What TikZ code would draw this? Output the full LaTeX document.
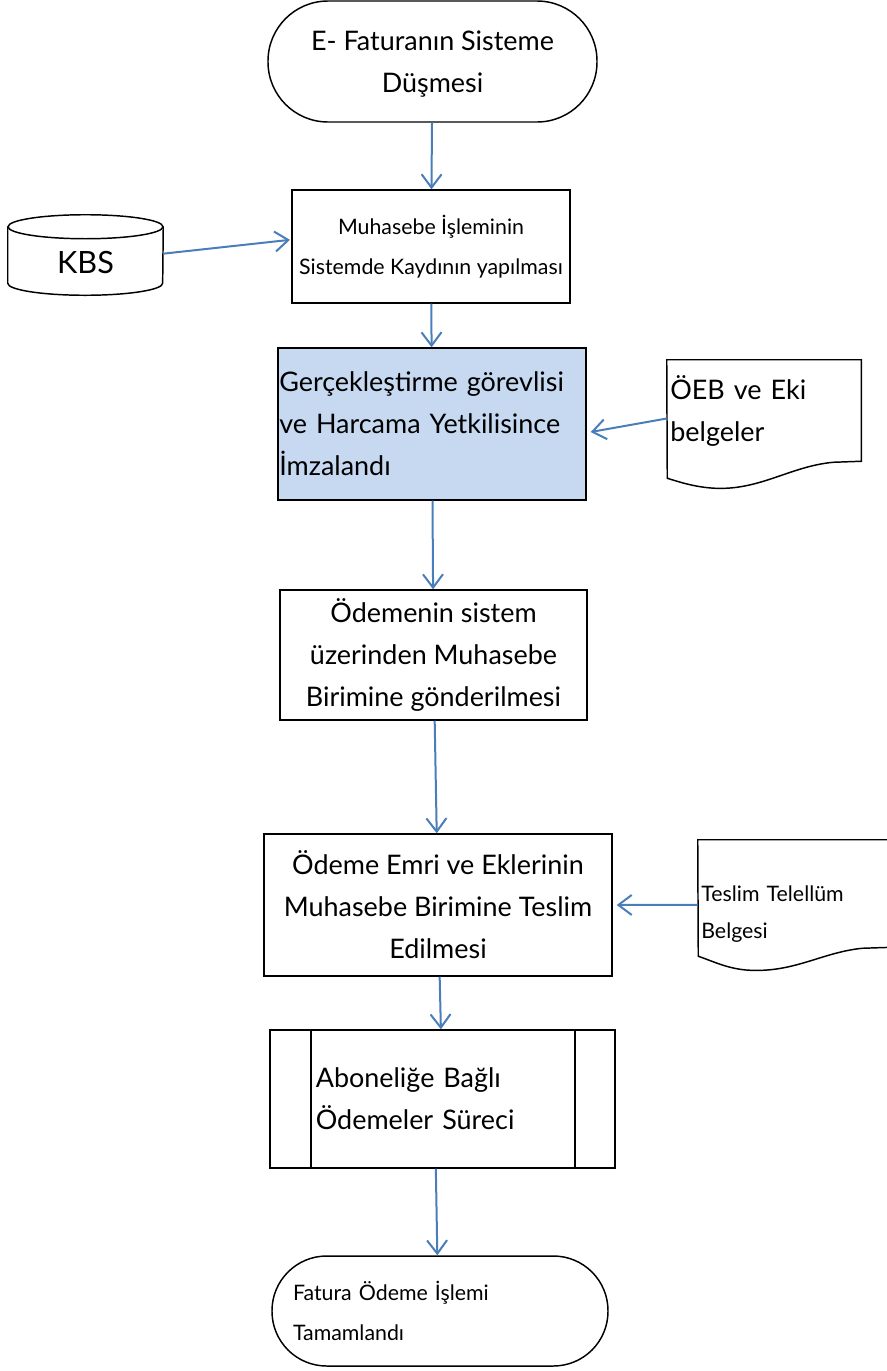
\documentclass[tikz,border=0pt]{standalone}
\usepackage{fontspec}
\setmainfont{Lato}
\usetikzlibrary{arrows.meta,positioning}
\definecolor{arrblue}{HTML}{4A7EBB}
\definecolor{boxblue}{HTML}{C6D9F1}
\newcommand{\smalltxt}{\fontsize{16}{30}\selectfont}
\newcommand{\midtxt}{\fontsize{20.2}{31.5}\selectfont}

\begin{document}
\begin{tikzpicture}[x=0.75pt,y=-0.75pt,
  box/.style={draw,line width=1.1pt,align=center,inner sep=0pt,font=\midtxt},
  term/.style={box,rounded corners=#1},
  doc/.style={align=left,inner xsep=2.5pt,inner ysep=0pt,font=\midtxt},
  a/.style={draw=arrblue,line width=1.5pt,-{Straight Barb[length=10pt,width=15pt]}}]
  \useasboundingbox (0,0) rectangle (886,1371);

  \node[term=45pt, minimum width=246.75pt, minimum height=90.75pt, text depth=-3pt] (start) at (432.5,61.5) {E- Faturanın Sisteme\\Düşmesi};
  \node[box, font=\smalltxt, minimum width=208.5pt, minimum height=84.75pt] (muh) at (431,246.5) {Muhasebe İşleminin\\Sistemde Kaydının yapılması};
  \node[font=\fontsize{23}{28}\selectfont, minimum width=116.25pt, minimum height=42pt, inner sep=0pt] (kbs) at (85.5,263) {KBS};
  \node[box, fill=boxblue, align=left, text width=229pt, inner xsep=1pt, minimum height=114pt] (imza) at (432,424) {Gerçekleştirme görevlisi\\ve Harcama Yetkilisince\\İmzalandı};
  \node[doc, text width=140.5pt, minimum height=75.75pt] (oeb) at (764,410.5) {ÖEB ve Eki\\belgeler};
  \node[box, minimum width=230.25pt, minimum height=97.5pt] (pay) at (433.5,655) {Ödemenin sistem\\üzerinden Muhasebe\\Birimine gönderilmesi};
  \node[box, minimum width=261pt, minimum height=106.5pt] (emir) at (438,905) {Ödeme Emri ve Eklerinin\\Muhasebe Birimine Teslim\\Edilmesi};
  \node[doc, font=\smalltxt, text width=140.5pt, minimum height=80.25pt, text depth=0pt] (teslim) at (795,893.5) {Teslim Telellüm\\[-2pt]Belgesi};
  \node[box, align=left, text width=190pt, inner xsep=34.5pt, minimum height=103.5pt] (proc) at (442.5,1099) {Aboneliğe Bağlı\\Ödemeler Süreci};
  \node[term=41pt, font=\smalltxt, align=left, text width=220.5pt, inner xsep=15.75pt, minimum height=82.5pt] (end) at (440,1311) {Fatura Ödeme İşlemi\\Tamamlandı};

  % cylinder, documents and process bars
  \draw[line width=1.1pt] ([yshift=6pt]kbs.north) ellipse [x radius=58.1pt, y radius=9pt];
  \draw[line width=1.1pt] ([yshift=6pt]kbs.north west) -- ([yshift=6pt]kbs.south west)
    arc (180:360:58.1pt and 9pt) -- ([yshift=6pt]kbs.north east);
  \draw[line width=1.1pt] (oeb.north west) -- (oeb.north east) -- (oeb.south east) -- ++(-28,1)
    .. controls +(-43,4) and +(45,2) .. ++(-118,26)
    .. controls +(-20,-1) and +(13,4) .. ++(-48,-10) -- cycle;
  \draw[line width=1.1pt] (teslim.north west) -- (teslim.north east) -- (teslim.south east) -- ++(-30,1)
    .. controls +(-40,4) and +(45,2) .. ++(-112,22)
    .. controls +(-22,-1) and +(15,5) .. ++(-52,-14) -- cycle;
  \draw[line width=1.1pt] ([xshift=31.5pt]proc.north west) -- ([xshift=31.5pt]proc.south west);
  \draw[line width=1.1pt] ([xshift=-30.75pt]proc.north east) -- ([xshift=-30.75pt]proc.south east);

  % connectors
  \draw[a] (start) -- (muh);
  \draw[a] ([yshift=7pt]kbs.east) -- ([xshift=-1pt,yshift=5pt]muh.west);
  \draw[a] (muh) -- (imza);
  \draw[a] ([yshift=-6pt]oeb.west) -- ([xshift=3pt,yshift=-6pt]imza.east);
  \draw[a] (imza) -- (pay);
  \draw[a] (pay) -- (emir);
  \draw[a] ([yshift=-8.5pt]teslim.west) -- ([xshift=3pt]emir.east);
  \draw[a] (emir) -- (proc);
  \draw[a] ([xshift=-5pt]proc.south) -- ([xshift=-2pt]end.north);
\end{tikzpicture}
\end{document}
